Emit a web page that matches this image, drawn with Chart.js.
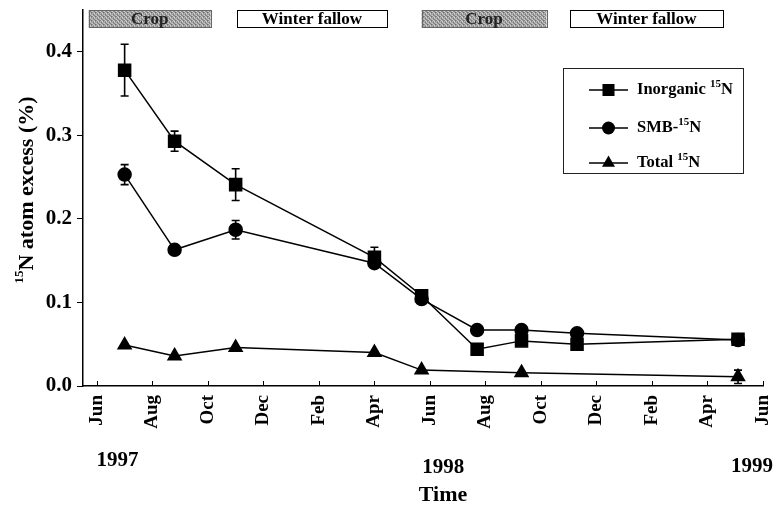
<!DOCTYPE html>
<html>
<head>
<meta charset="utf-8">
<script src="https://cdn.jsdelivr.net/npm/chart.js@4.4.1/dist/chart.umd.min.js"></script>
<style>
  body { margin: 0; background: #fff; }
  canvas { display: block; }
</style>
</head>
<body>
<canvas id="myChart" width="773" height="505"></canvas>
<script>
// months counted from 1 Jun 1997
const sampleMonths = [1.0, 2.8, 5.0, 10.0, 11.7, 13.7, 15.3, 17.3, 23.1];
const inorganic = [0.378, 0.293, 0.241, 0.154, 0.108, 0.044, 0.054, 0.050, 0.056];
const inorganicErr = [0.031, 0.012, 0.019, 0.012, 0.004, 0, 0, 0, 0];
const smb = [0.253, 0.163, 0.187, 0.147, 0.104, 0.067, 0.067, 0.063, 0.055];
const smbErr = [0.012, 0.005, 0.011, 0.004, 0.003, 0, 0, 0, 0];
const totalMonths = [1.0, 2.8, 5.0, 10.0, 11.7, 15.3, 23.1];
const total = [0.049, 0.036, 0.046, 0.040, 0.019, 0.016, 0.011];
const totalErr = [0, 0, 0, 0, 0, 0, 0.008];

const monthTicks = [0, 2, 4, 6, 8, 10, 12, 14, 16, 18, 20, 22, 24];
const monthLabels = ['Jun', 'Aug', 'Oct', 'Dec', 'Feb', 'Apr', 'Jun', 'Aug', 'Oct', 'Dec', 'Feb', 'Apr', 'Jun'];
const yTicks = [0, 0.1, 0.2, 0.3, 0.4];
const years = ['1997', '1998', '1999'];
const yearAt = [0.74, 12.48, 23.6];
const periods = ['Crop', 'Winter fallow', 'Crop', 'Winter fallow'];
const periodStart = [-0.3, 5.05, 11.7, 17.05];
const periodEnd = [4.1, 10.45, 16.2, 22.55];

const FONT = "'Liberation Serif', 'Times New Roman', serif";

function toPoints(xs, ys) {
    return xs.map((x, i) => ({ x: x, y: ys[i] }));
}

function makeStipple() {
    const c = document.createElement('canvas');
    c.width = 4; c.height = 4;
    const g = c.getContext('2d');
    const shades = ['#8c8c8c', '#c4c4c4', '#a8a8a8', '#6f6f6f',
                    '#b8b8b8', '#9a9a9a', '#d0d0d0', '#8a8a8a',
                    '#a0a0a0', '#787878', '#bcbcbc', '#acacac',
                    '#c8c8c8', '#949494', '#848484', '#b0b0b0'];
    shades.forEach((s, i) => { g.fillStyle = s; g.fillRect(i % 4, Math.floor(i / 4), 1, 1); });
    return c;
}

function drawSup(ctx, x, y, parts, big, small) {
    // parts: [text, isSup]
    parts.forEach(([t, sup]) => {
        ctx.font = 'bold ' + (sup ? small : big) + 'px ' + FONT;
        ctx.fillText(t, x, sup ? y - big * 0.35 : y);
        x += ctx.measureText(t).width;
    });
    return x;
}

const errorBars = {
    id: 'errorBars',
    beforeDatasetsDraw(chart) {
        const ctx = chart.ctx;
        const xs = chart.scales.x, ys = chart.scales.y;
        const sets = [[sampleMonths, inorganic, inorganicErr], [sampleMonths, smb, smbErr], [totalMonths, total, totalErr]];
        ctx.save();
        ctx.strokeStyle = '#000';
        ctx.lineWidth = 1.6;
        sets.forEach(([mx, vals, errs]) => {
            vals.forEach((v, i) => {
                if (!errs[i]) return;
                const px = xs.getPixelForValue(mx[i]);
                const top = ys.getPixelForValue(v + errs[i]);
                const bot = ys.getPixelForValue(v - errs[i]);
                ctx.beginPath();
                ctx.moveTo(px, top); ctx.lineTo(px, bot);
                ctx.moveTo(px - 4, top); ctx.lineTo(px + 4, top);
                ctx.moveTo(px - 4, bot); ctx.lineTo(px + 4, bot);
                ctx.stroke();
            });
        });
        ctx.restore();
    }
};

const decorations = {
    id: 'decorations',
    afterDraw(chart) {
        const ctx = chart.ctx;
        const xs = chart.scales.x;
        const area = chart.chartArea;
        ctx.save();
        ctx.fillStyle = '#000';
        ctx.strokeStyle = '#000';

        // inner ticks on the time axis
        ctx.lineWidth = 1;
        monthTicks.forEach(m => {
            const px = Math.round(xs.getPixelForValue(m)) + 0.5;
            ctx.beginPath();
            ctx.moveTo(px, area.bottom);
            ctx.lineTo(px, area.bottom - 5);
            ctx.stroke();
        });

        // crop / fallow bands
        const stipple = ctx.createPattern(makeStipple(), 'repeat');
        periods.forEach((p, i) => {
            const x0 = xs.getPixelForValue(periodStart[i]);
            const x1 = xs.getPixelForValue(periodEnd[i]);
            const crop = p === 'Crop';
            ctx.fillStyle = crop ? stipple : '#fff';
            ctx.fillRect(x0, 10, x1 - x0, 18);
            ctx.strokeStyle = crop ? '#666' : '#000';
            ctx.lineWidth = 1;
            ctx.strokeRect(Math.round(x0) + 0.5, 10.5, Math.round(x1 - x0), 17);
            ctx.fillStyle = crop ? '#222' : '#000';
            ctx.font = 'bold 17px ' + FONT;
            ctx.textAlign = 'center';
            ctx.textBaseline = 'middle';
            ctx.fillText(p, (x0 + x1) / 2, 19.5);
        });

        // legend box
        ctx.strokeStyle = '#222';
        ctx.lineWidth = 1;
        ctx.strokeRect(563.5, 68.5, 180, 105);
        const rows = [90, 128, 163];
        const names = [[['Inorganic ', false], ['15', true], ['N', false]],
                       [['SMB-', false], ['15', true], ['N', false]],
                       [['Total ', false], ['15', true], ['N', false]]];
        chart.data.datasets.forEach((ds, i) => {
            const y = rows[i];
            ctx.strokeStyle = '#000';
            ctx.lineWidth = 1.5;
            ctx.beginPath(); ctx.moveTo(589, y); ctx.lineTo(628, y); ctx.stroke();
            Chart.helpers.drawPoint(ctx, {
                pointStyle: ds.pointStyle, radius: ds.pointRadius, rotation: 0, borderWidth: 0
            }, 608.5, y);
            ctx.fillStyle = '#000';
            ctx.textAlign = 'left';
            ctx.textBaseline = 'middle';
            drawSup(ctx, 637, y, names[i], 16.5, 11);
        });

        // y axis title
        ctx.save();
        ctx.translate(27, 190);
        ctx.rotate(-Math.PI / 2);
        ctx.textAlign = 'left';
        ctx.textBaseline = 'middle';
        const full = 'N atom excess (%)';
        ctx.font = 'bold 13px ' + FONT;
        const w15 = ctx.measureText('15').width;
        ctx.font = 'bold 22px ' + FONT;
        const wTotal = w15 + ctx.measureText(full).width;
        drawSup(ctx, -wTotal / 2, 0, [['15', true], [full, false]], 22, 13);
        ctx.restore();

        // years and axis title
        ctx.fillStyle = '#000';
        ctx.textAlign = 'center';
        ctx.textBaseline = 'middle';
        ctx.font = 'bold 21px ' + FONT;
        const yearY = [461, 468, 467];
        years.forEach((yr, i) => {
            ctx.fillText(yr, xs.getPixelForValue(yearAt[i]), yearY[i]);
        });
        ctx.font = 'bold 22px ' + FONT;
        ctx.fillText('Time', 443, 495);
        ctx.restore();
    }
};

document.addEventListener('DOMContentLoaded', function () {
    const ctx = document.getElementById('myChart');

    new Chart(ctx, {
        type: 'line',
        data: {
            datasets: [{
                label: 'Inorganic 15N',
                data: toPoints(sampleMonths, inorganic),
                borderColor: '#000',
                backgroundColor: '#000',
                borderWidth: 1.5,
                pointStyle: 'rect',
                pointRadius: 8.5,
                tension: 0
            },
            {
                label: 'SMB-15N',
                data: toPoints(sampleMonths, smb),
                borderColor: '#000',
                backgroundColor: '#000',
                borderWidth: 1.5,
                pointStyle: 'circle',
                pointRadius: 6.5,
                tension: 0
            }, {
                label: 'Total 15N',
                data: toPoints(totalMonths, total),
                borderColor: '#000',
                backgroundColor: '#000',
                borderWidth: 1.5,
                pointStyle: 'triangle',
                pointRadius: 7.5,
                tension: 0
            }]
        },
        options: {
            responsive: false,
            animation: false,
            layout: { padding: { top: 8, right: 9, left: 0, bottom: 0 } },
            plugins: { legend: { display: false }, tooltip: { enabled: false } },
            elements: { point: { borderWidth: 0 } },
            scales: {
                x: {
                    type: 'linear',
                    min: -0.5,
                    max: 24,
                    afterBuildTicks: s => { s.ticks = monthTicks.map(v => ({ value: v })); },
                    afterFit: s => { s.height = 119; s.paddingLeft = 0; s.paddingRight = 0; },
                    grid: { display: true, drawOnChartArea: false, drawTicks: false },
                    border: { display: true, color: '#000', width: 1.5 },
                    ticks: {
                        autoSkip: false,
                        minRotation: 90,
                        maxRotation: 90,
                        padding: 9,
                        color: '#000',
                        font: { family: FONT, size: 19, weight: 'bold' },
                        callback: v => monthLabels[monthTicks.indexOf(v)]
                    }
                },
                y: {
                    min: 0,
                    max: 0.45,
                    afterBuildTicks: s => { s.ticks = yTicks.map(v => ({ value: v })); },
                    afterFit: s => { s.width = 83; s.paddingTop = 0; s.paddingBottom = 0; },
                    grid: { drawOnChartArea: false, drawTicks: true, tickLength: 6, color: '#000' },
                    border: { display: true, color: '#000', width: 1.5 },
                    ticks: {
                        padding: 5,
                        color: '#000',
                        font: { family: FONT, size: 21, weight: 'bold' },
                        callback: v => v.toFixed(1)
                    }
                }
            }
        },
        plugins: [errorBars, decorations]
    });
});
</script>
</body>
</html>
